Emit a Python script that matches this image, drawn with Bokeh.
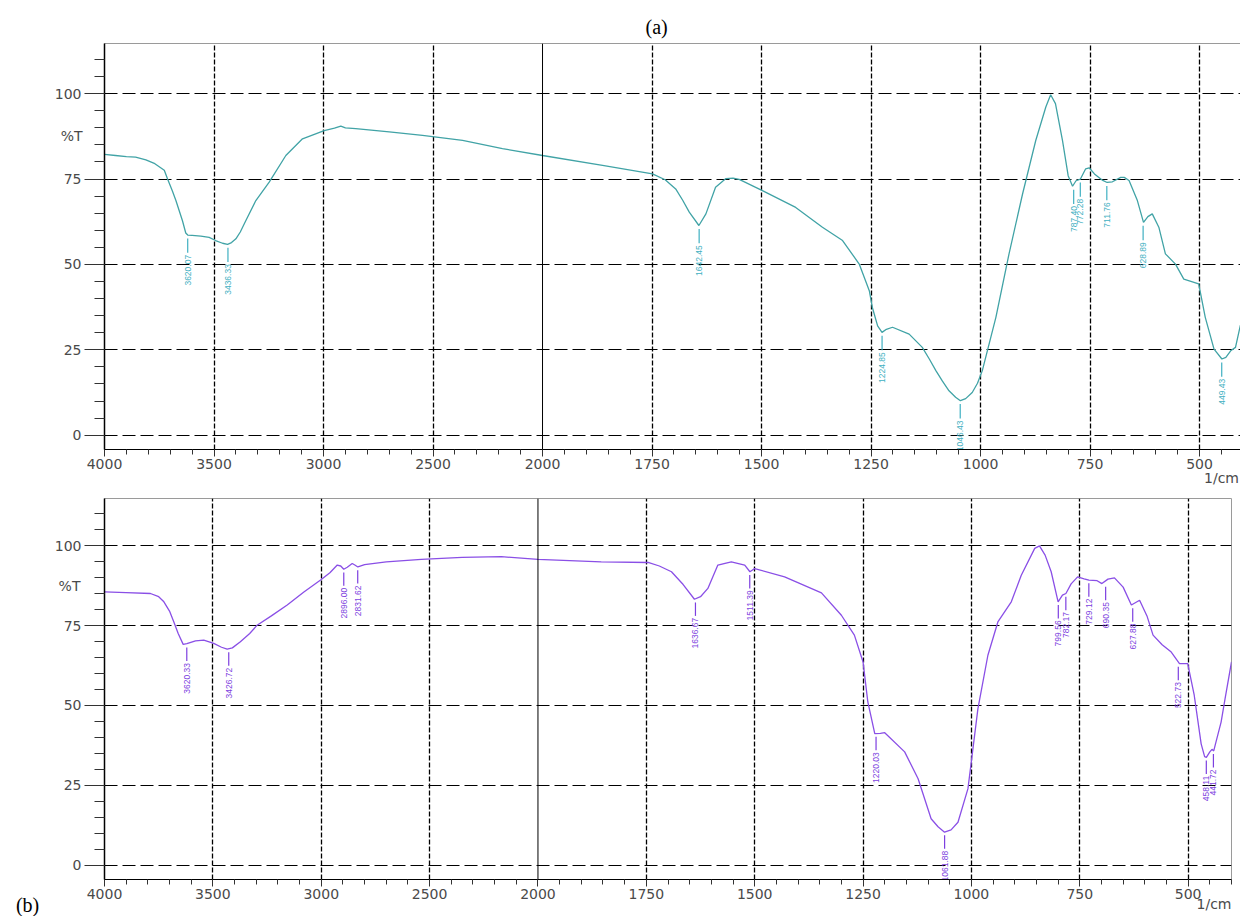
import numpy as np
from bokeh.plotting import figure
from bokeh.models import FixedTicker, Span, Label
from bokeh.layouts import column
from bokeh.embed import file_html
from bokeh.resources import INLINE
from bokeh.core.properties import value

# ---------------- data: spectrum (a) ----------------
wn_a = [4000, 3950, 3900, 3858, 3811, 3770, 3727, 3712, 3690, 3674, 3644, 3629, 3620, 3600,
        3560, 3522, 3493, 3461, 3438, 3420, 3400, 3380, 3355, 3309, 3248, 3172, 3096, 2997,
        2950, 2921, 2900, 2853, 2700, 2548, 2365, 2183, 2000, 1863, 1749, 1720, 1696, 1680,
        1665, 1643, 1627, 1605, 1582, 1565, 1551, 1498, 1422, 1361, 1315, 1277, 1254, 1247,
        1235, 1225, 1215, 1201, 1163, 1133, 1117, 1102, 1087, 1072, 1057, 1046, 1034, 1019,
        1007, 996, 965, 935, 904, 874,
        851, 840, 829, 813, 800, 790, 782, 772, 760, 752, 740, 721, 711, 699, 680, 672, 661,
        642, 628, 618, 608, 593, 578, 555, 536, 502, 487, 467, 449, 440, 429, 418, 407, 400]
t_a = [82.2, 81.9, 81.6, 81.4, 80.6, 79.5, 77.6, 75.0, 71.5, 68.7, 62.8, 59.2, 58.6, 58.5,
       58.3, 57.9, 57.0, 56.2, 55.9, 56.4, 57.5, 59.5, 62.8, 68.7, 74.1, 81.9, 86.8, 89.2,
       89.9, 90.5, 90.0, 89.8, 88.8, 87.8, 86.3, 83.9, 81.9, 79.0, 76.5, 74.8, 72.1, 68.8,
       65.3, 61.4, 64.8, 72.6, 75.1, 75.3, 74.9, 71.6, 66.7, 60.9, 57.0, 50.1, 42.3, 37.4,
       32.0, 30.1, 31.0, 31.6, 29.6, 25.7, 22.3, 18.9, 15.8, 13.0, 11.1, 10.1, 10.7, 12.5,
       15.2, 18.9, 34.5, 53.1, 70.7, 86.3,
       96.1, 99.7, 97.1, 86.3, 76.0, 72.9, 74.5, 75.0, 78.0, 78.3, 76.5, 74.6, 74.0, 74.2, 75.5, 75.5, 74.6,
       68.7, 62.3, 64.0, 64.8, 60.9, 53.1, 50.1, 45.7, 44.3, 34.5, 25.2, 22.3, 22.8, 24.7, 25.7, 32.1, 34.0]
peak_wn_a = [3620.07, 3436.33, 1642.45, 1224.85, 1046.43, 787.40, 772.28, 711.76, 628.89, 449.43]
peak_t_a = [58.6, 55.9, 61.4, 30.1, 10.1, 72.9, 75.0, 74.0, 62.3, 22.3]
peak_lbl_a = ["3620.07", "3436.33", "1642.45", "1224.85", "1046.43", "787.40", "772.28",
              "711.76", "628.89", "449.43"]

# ---------------- data: spectrum (b) ----------------
wn_b = [4000, 3900, 3788, 3750, 3726, 3700, 3680, 3660, 3637, 3620, 3580, 3542, 3496, 3460,
        3434, 3410, 3373, 3330, 3296, 3230, 3157, 3080, 3003, 2960, 2926, 2910, 2896, 2880,
        2857, 2845, 2831, 2800, 2700, 2538, 2350, 2169, 2000, 1854, 1746, 1720, 1692, 1665,
        1639, 1625, 1608, 1585, 1554, 1523, 1511, 1500, 1431, 1346, 1300, 1270, 1250, 1239,
        1223, 1210, 1200, 1154, 1123, 1093, 1077, 1062, 1047, 1031, 1008, 985, 962, 939, 908,
        885, 854,
        843, 830, 816, 800, 790, 782, 770, 755, 740, 729, 710, 699, 685, 670, 650, 631, 612,
        595, 581, 560, 539, 520, 501, 486, 470, 462, 458, 450, 445, 441, 435, 424, 415, 400]
t_b = [85.5, 85.3, 85.0, 84.0, 82.4, 79.5, 76.1, 72.5, 69.1, 69.3, 70.2, 70.4, 69.4, 68.2,
       67.6, 68.0, 69.9, 72.5, 75.1, 78.0, 81.4, 85.5, 89.2, 91.5, 93.9, 93.6, 92.6, 93.2,
       94.4, 93.9, 93.3, 94.0, 94.9, 95.7, 96.3, 96.5, 95.7, 94.9, 94.7, 93.6, 91.8, 87.8,
       83.2, 84.0, 86.6, 93.9, 94.9, 93.9, 91.8, 92.8, 90.2, 85.2, 78.2, 72.0, 63.6, 51.1,
       41.2, 41.3, 41.5, 35.5, 27.1, 14.6, 12.1, 10.4, 11.1, 13.5, 24.0, 49.0, 65.7, 76.1, 82.4,
       90.7, 99.1,
       99.9, 97.0, 91.8, 82.4, 84.5, 85.0, 88.0, 90.2, 89.6, 89.2, 89.0, 88.1, 89.5, 89.9, 87.0, 81.4, 82.9,
       78.0, 72.0, 69.0, 66.7, 63.1, 63.1, 53.2, 38.0, 34.0, 33.8, 35.5, 36.3, 35.8, 39.0, 44.8, 52.0, 63.6]
peak_wn_b = [3620.33, 3426.72, 2896.00, 2831.62, 1636.67, 1511.39, 1220.03, 1061.88, 799.56,
             782.17, 729.12, 690.35, 627.88, 522.73, 458.11, 441.72]
peak_t_b = [69.1, 67.6, 92.6, 93.3, 83.2, 91.8, 41.2, 10.4, 82.4, 85.0, 89.2, 88.1, 81.4, 63.1,
            33.8, 35.8]
peak_lbl_b = ["3620.33", "3426.72", "2896.00", "2831.62", "1636.67", "1511.39", "1220.03",
              "1061.88", "799.56", "782.17", "729.12", "690.35", "627.88", "522.73", "458.11",
              "441.72"]

# ---------------- axes ----------------
x_major = [4000, 3500, 3000, 2500, 2000, 1750, 1500, 1250, 1000, 750, 500]
x_grid = [4000, 3500, 3000, 2500, 1750, 1500, 1250, 1000, 750, 500]
y_major = [0, 25, 50, 75, 100]
y_minor = list(range(0, 115, 5))


def to_plot(w):
    """FTIR display axis: 4000-2000 at half the scale of 2000-400."""
    w = np.asarray(w, dtype=float)
    return np.where(w >= 2000, 4000 - w, 2000 + 2 * (2000 - w))


TICK_FONT = "DejaVu Sans"
TICK_COLOR = "#4a4a4a"
TICK_SIZE = "14px"


def make_fig(wn, t, pk_wn, pk_t, pk_lbl, color, lcolor, fw, fh, ml, mr, mt, mb, xend, ylo):
    p = figure(frame_width=fw, frame_height=fh, x_range=(0, xend), y_range=(ylo, 114.7),
               output_backend="svg", toolbar_location=None,
               min_border_left=ml, min_border_right=mr, min_border_top=mt, min_border_bottom=mb,
               background_fill_color="white", border_fill_color="white")
    p.outline_line_color = "#9a9a9a"
    p.outline_line_width = 1

    ticks = [int(v) for v in to_plot(x_major)]
    p.xaxis.ticker = FixedTicker(ticks=ticks, minor_ticks=list(range(0, 5300, 100)))
    p.xaxis.major_label_overrides = {tk: str(w) for tk, w in zip(ticks, x_major)}
    p.yaxis.ticker = FixedTicker(ticks=y_major, minor_ticks=y_minor)

    for ax in (p.xaxis, p.yaxis):
        ax.axis_line_color = "black"
        ax.major_tick_line_color = "#333333"
        ax.minor_tick_line_color = "#333333"
        ax.major_label_text_font = TICK_FONT
        ax.major_label_text_font_size = TICK_SIZE
        ax.major_label_text_color = TICK_COLOR
    p.xaxis.major_tick_out = 7
    p.xaxis.major_tick_in = 0
    p.xaxis.minor_tick_out = 5
    p.xaxis.minor_tick_in = 0
    p.xaxis.major_label_standoff = 2
    p.yaxis.major_tick_out = 20
    p.yaxis.major_tick_in = 0
    p.yaxis.minor_tick_out = 10
    p.yaxis.minor_tick_in = 0
    p.yaxis.major_label_standoff = 3
    p.yaxis.axis_line_width = 1.5

    p.xgrid.ticker = FixedTicker(ticks=[int(v) for v in to_plot(x_grid)])
    p.xgrid.grid_line_color = "black"
    p.xgrid.grid_line_dash = "5 2"
    p.xgrid.grid_line_width = 1.3
    p.ygrid.ticker = FixedTicker(ticks=y_major)
    p.ygrid.grid_line_color = "black"
    p.ygrid.grid_line_dash = "13 5"
    p.ygrid.grid_line_width = 1

    p.add_layout(Span(location=float(to_plot([2000])[0]), dimension="height",
                      line_color="black", line_width=1))

    p.line(to_plot(wn), t, line_color=color, line_width=1.3)

    pk_x = to_plot(pk_wn)
    pk_t = np.asarray(pk_t, dtype=float)
    p.segment(x0=pk_x, y0=pk_t - 1.0, x1=pk_x, y1=pk_t - 5.2, line_color=lcolor, line_width=1.2)
    p.text(x=pk_x, y=pk_t - 5.8, text=pk_lbl, angle=np.pi / 2, text_align="right",
           text_baseline="middle", text_font=value("Liberation Sans"), text_font_size="8.5px",
           text_color=lcolor)
    return p


p1 = make_fig(wn_a, t_a, peak_wn_a, peak_t_a, peak_lbl_a, "#41a3a6", "#3fb0c2",
              fw=1138, fh=406, ml=102, mr=0, mt=43, mb=39, xend=5196, ylo=-4.2)
p1.title.text = "(a)"
p1.title.align = "left"
p1.title.offset = 541
p1.title.standoff = 12
p1.title.text_font = "Liberation Serif"
p1.title.text_font_size = "20px"
p1.title.text_font_style = "normal"
p1.title.text_color = "black"

p2 = make_fig(wn_b, t_b, peak_wn_b, peak_t_b, peak_lbl_b, "#8a4fe6", "#7d3fe0",
              fw=1127, fh=381, ml=104, mr=9, mt=10, mb=36, xend=5200, ylo=-4.4)

for p, xt, xc, yc in ((p1, -100, 5180, -12.5), (p2, -111, 5200, -12.0)):
    p.add_layout(Label(x=xt, y=87.5, text="%T", text_align="right", text_baseline="middle",
                       text_font=TICK_FONT, text_font_size=TICK_SIZE, text_color=TICK_COLOR),
                 "left")
    p.add_layout(Label(x=xc, y=yc, text="1/cm", text_align="right", text_baseline="middle",
                       text_font=TICK_FONT, text_font_size=TICK_SIZE, text_color=TICK_COLOR),
                 "below")

p2.add_layout(Label(x=-355, y=-12.5, text="(b)", text_align="center", text_baseline="middle",
                    text_font="Liberation Serif", text_font_size="20px", text_color="black"),
              "below")

layout = column(p1, p2, spacing=0)
open("out.html", "w").write(file_html(layout, INLINE))
